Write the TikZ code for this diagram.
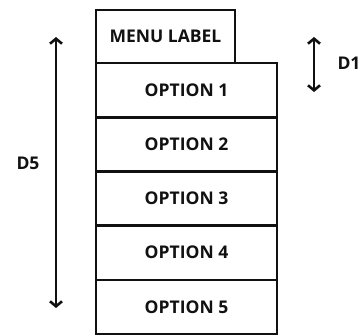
\documentclass[tikz,border=0pt]{standalone}
\usepackage{fontspec}
\setmainfont{Open Sans}
\usetikzlibrary{arrows.meta}
\definecolor{ink}{HTML}{111111}
\begin{document}
\begin{tikzpicture}[x=1pt,y=-1pt,
  box/.style={draw=ink,line width=2.6pt,rectangle,inner sep=0pt,minimum height=54.2pt,minimum width=181pt,font=\bfseries\fontsize{17.5}{20}\selectfont,text=ink},
  lbl/.style={font=\bfseries\fontsize{17.5}{20}\selectfont,text=ink,inner sep=0pt},
  dim/.style={draw=ink,line width=2.6pt,{Straight Barb[length=5pt,width=12pt]}-{Straight Barb[length=5pt,width=12pt]}}]
\useasboundingbox (0,0) rectangle (363,335);
\node[box,minimum width=139pt,minimum height=53pt] (menu) at (165.5,36.5) {MENU LABEL};
\node[box] (o1) at (186.5,90.1) {OPTION 1};
\node[box] (o2) at (186.5,144.3) {OPTION 2};
\node[box] (o3) at (186.5,198.5) {OPTION 3};
\node[box] (o4) at (186.5,252.7) {OPTION 4};
\node[box] (o5) at (186.5,306.9) {OPTION 5};
\coordinate (a1) at (56,37);
\coordinate (a2) at (56,308);
\coordinate (b1) at (314,37);
\coordinate (b2) at (314,92);
\draw[dim] (a1) -- (a2);
\draw[dim] (b1) -- (b2);
\node[lbl] (d5) at (28,163) {D5};
\node[lbl] (d1) at (349,63) {D1};
\end{tikzpicture}
\end{document}
